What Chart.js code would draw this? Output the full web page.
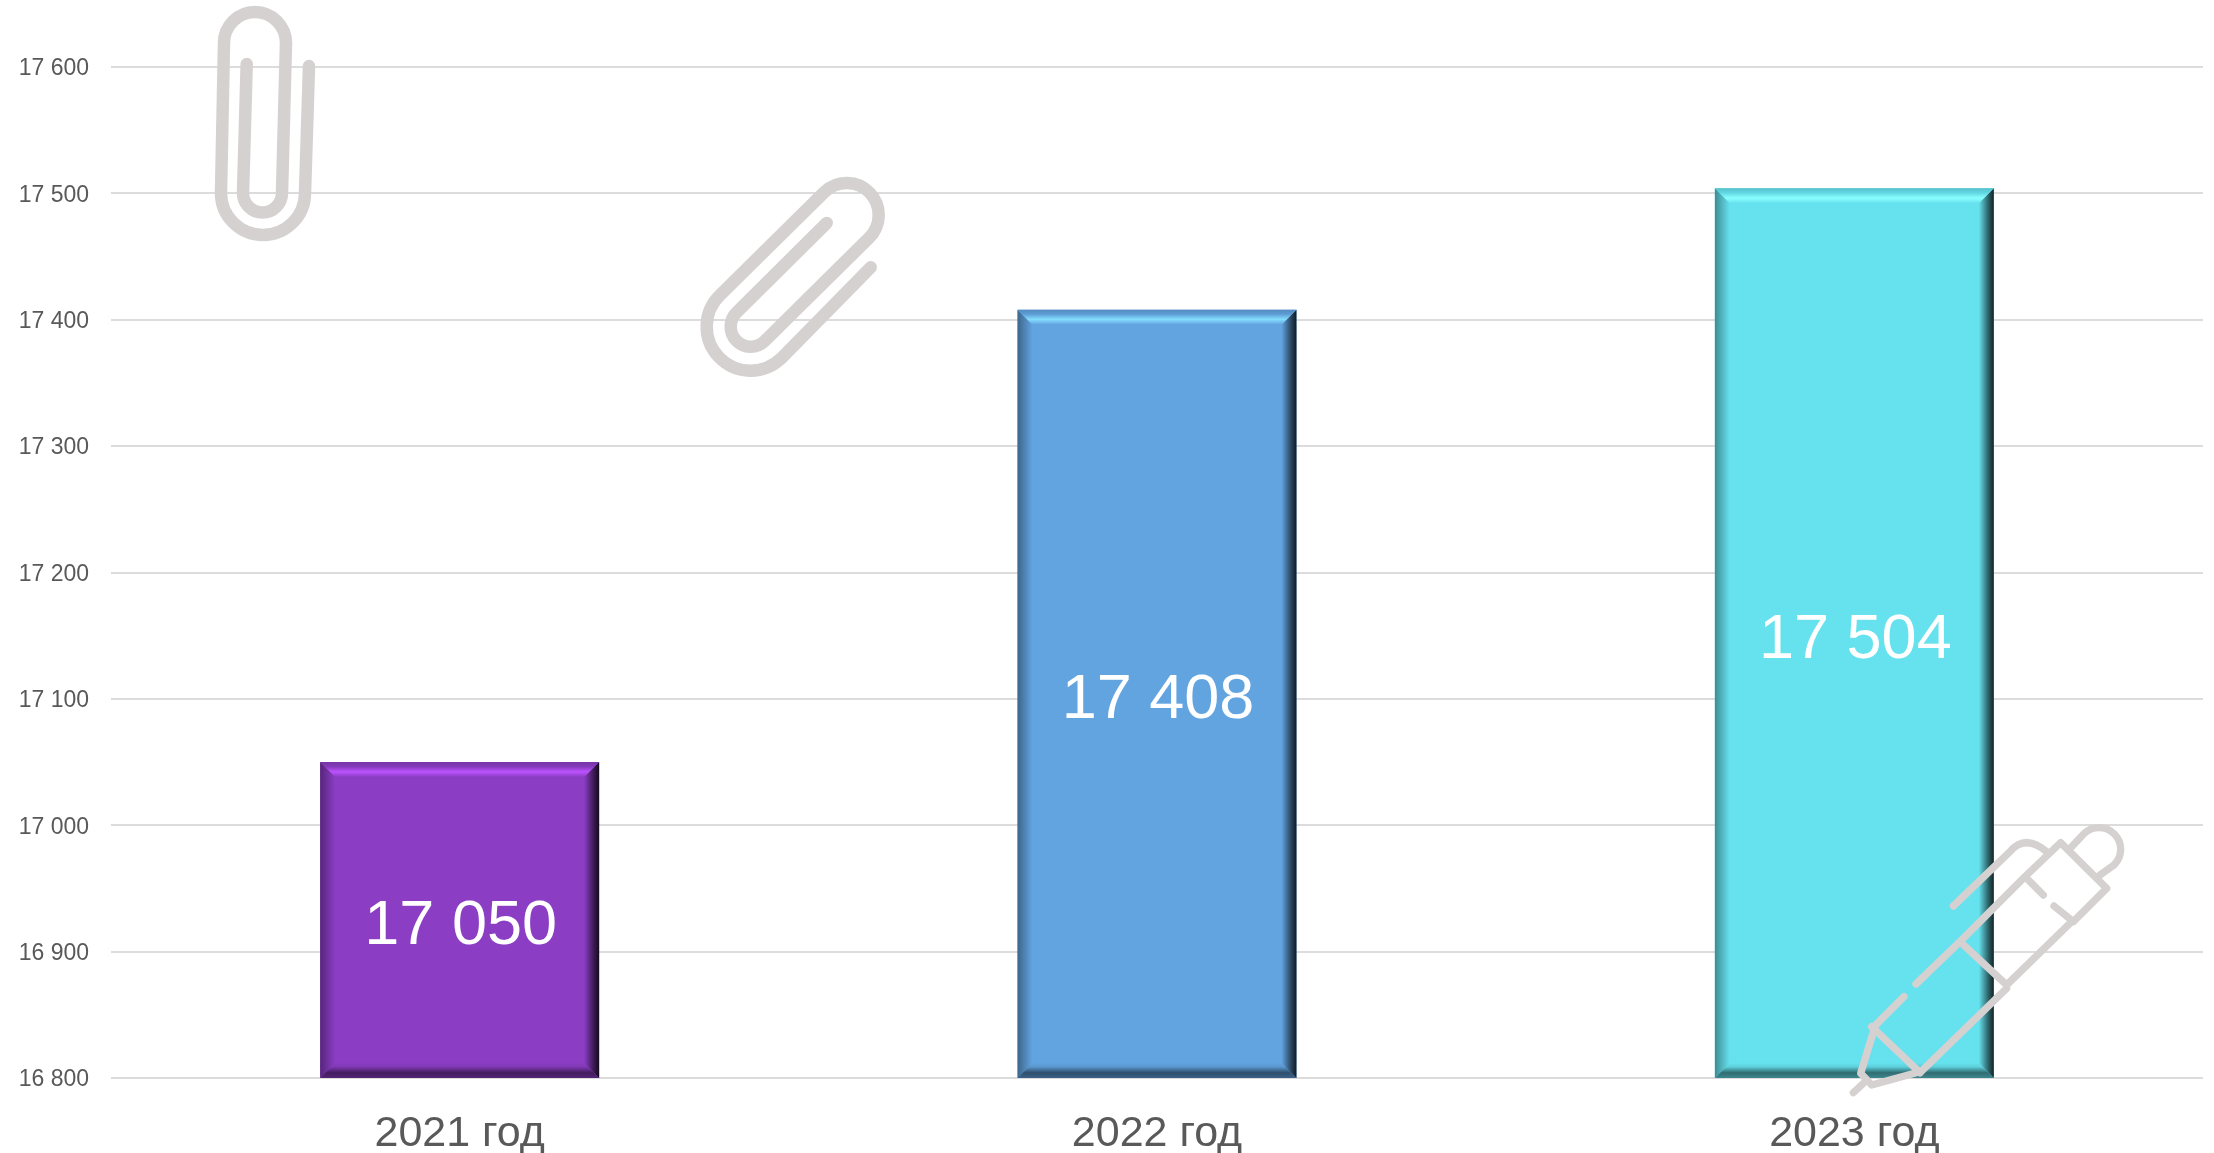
<!DOCTYPE html>
<html>
<head>
<meta charset="utf-8">
<style>
  html, body { margin: 0; padding: 0; background: #fff; }
  canvas { display: block; }
</style>
<script src="https://cdn.jsdelivr.net/npm/chart.js@4/dist/chart.umd.js"></script>
</head>
<body>
<canvas id="chart" width="2214" height="1153"></canvas>
<script>
const categories = ["2021 год", "2022 год", "2023 год"];
const values = [17050, 17408, 17504];
const yTicks = [16800, 16900, 17000, 17100, 17200, 17300, 17400, 17500, 17600];
const barColors = [[139, 61, 196], [98, 164, 224], [102, 226, 238]];

const fontName = '"Liberation Sans", Arial, sans-serif';
const iconColor = "#d6d1d1";

function formatNumber(n) {
  return String(n).replace(/\B(?=(\d{3})+$)/g, " ");
}

function shade(c, k) {
  const f = v => Math.min(255, Math.round(v * k));
  return `rgb(${f(c[0])},${f(c[1])},${f(c[2])})`;
}

// one side of the bevel: a trapezoid filled with a gradient across it
function bevelSide(ctx, pts, from, to, stops) {
  const g = ctx.createLinearGradient(from[0], from[1], to[0], to[1]);
  stops.forEach(s => g.addColorStop(s[0], s[1]));
  ctx.fillStyle = g;
  ctx.beginPath();
  ctx.moveTo(pts[0][0], pts[0][1]);
  pts.slice(1).forEach(p => ctx.lineTo(p[0], p[1]));
  ctx.closePath();
  ctx.fill();
}

const barBevel = {
  id: "barBevel",
  afterDatasetsDraw(chart) {
    const ctx = chart.ctx;
    const d = 15;
    chart.getDatasetMeta(0).data.forEach((bar, i) => {
      const c = barColors[i];
      const l = bar.x - bar.width / 2, r = bar.x + bar.width / 2;
      // the bar's own base sits at zero, far under the axis minimum
      const t = bar.y, b = Math.min(bar.base, chart.scales.y.bottom);
      ctx.save();
      bevelSide(ctx, [[l, t], [l + d, t + d], [l + d, b - d], [l, b]], [l, 0], [l + d, 0],
        [[0, shade(c, 0.62)], [0.6, shade(c, 0.85)], [1, shade(c, 1)]]);
      bevelSide(ctx, [[r, t], [r - d, t + d], [r - d, b - d], [r, b]], [r, 0], [r - d, 0],
        [[0, shade(c, 0.16)], [0.35, shade(c, 0.42)], [1, shade(c, 1)]]);
      bevelSide(ctx, [[l, t], [r, t], [r - d, t + d], [l + d, t + d]], [0, t], [0, t + d],
        [[0, shade(c, 0.85)], [0.3, shade(c, 0.95)], [0.65, shade(c, 1.35)], [1, shade(c, 1)]]);
      bevelSide(ctx, [[l, b], [r, b], [r - d, b - d], [l + d, b - d]], [0, b], [0, b - d],
        [[0, shade(c, 0.6)], [0.35, shade(c, 0.48)], [0.75, shade(c, 0.92)], [1, shade(c, 1)]]);

      ctx.fillStyle = "#fff";
      ctx.font = "63px " + fontName;
      ctx.textAlign = "center";
      ctx.textBaseline = "middle";
      ctx.fillText(formatNumber(values[i]), bar.x + 1, (t + b) / 2 + 7);
      ctx.restore();
    });
  }
};

function deg(a) { return a * Math.PI / 180; }

function drawClipUpright(ctx) {
  ctx.lineWidth = 12.5;
  ctx.beginPath();
  ctx.moveTo(309, 66);
  ctx.lineTo(305, 193);
  ctx.arc(263, 193, 42, 0, Math.PI);
  ctx.lineTo(224, 43);
  ctx.arc(255, 43, 31, Math.PI, 2 * Math.PI);
  ctx.lineTo(282, 193);
  ctx.arc(262.5, 193, 19.5, 0, Math.PI);
  ctx.lineTo(246.7, 64);
  ctx.stroke();
}

function drawClipTilted(ctx) {
  ctx.lineWidth = 12.5;
  ctx.beginPath();
  ctx.moveTo(870.7, 267.3);
  ctx.arc(750.7, 326.7, 44, deg(46), deg(226));
  ctx.arc(846.7, 215, 32, deg(226), deg(406));
  ctx.arc(750.7, 326.7, 20, deg(46), deg(226));
  ctx.lineTo(826.7, 223);
  ctx.stroke();
}

function drawPen(ctx) {
  const line = pts => {
    ctx.beginPath();
    ctx.moveTo(pts[0][0], pts[0][1]);
    pts.slice(1).forEach(p => ctx.lineTo(p[0], p[1]));
    ctx.stroke();
  };
  ctx.save();
  ctx.translate(1800, 800);
  ctx.scale(1 / 3, 1 / 3);
  ctx.lineWidth = 22;

  // pocket clip
  ctx.beginPath();
  ctx.moveTo(460, 318);
  ctx.lineTo(630, 155);
  ctx.quadraticCurveTo(675, 101, 740, 155);
  ctx.stroke();

  // body
  line([[222, 680], [312, 590]]);
  line([[348, 552], [480, 425], [675, 230], [782, 128], [920, 265], [820, 365], [762, 318]]);
  line([[680, 235], [730, 285]]);
  line([[815, 365], [620, 555]]);
  line([[620, 565], [360, 818]]);
  line([[480, 425], [620, 555]]);
  line([[215, 680], [360, 818]]);

  // top button
  ctx.beginPath();
  ctx.moveTo(815, 140);
  ctx.arc(897, 148, 65, deg(225), deg(405));
  ctx.lineTo(900, 225);
  ctx.stroke();

  // tip
  line([[225, 680], [182, 820], [215, 855], [360, 815]]);
  line([[190, 850], [160, 878]]);
  ctx.restore();
}

const decorations = {
  id: "decorations",
  afterDraw(chart) {
    const ctx = chart.ctx;
    ctx.save();
    ctx.strokeStyle = iconColor;
    ctx.lineCap = "round";
    ctx.lineJoin = "round";
    drawClipUpright(ctx);
    drawClipTilted(ctx);
    drawPen(ctx);
    ctx.restore();
  }
};

new Chart(document.getElementById("chart").getContext("2d"), {
  type: "bar",
  data: {
    labels: categories,
    datasets: [{
      data: values,
      backgroundColor: barColors.map(c => `rgb(${c[0]},${c[1]},${c[2]})`),
      borderWidth: 0,
      categoryPercentage: 1,
      barPercentage: 0.4
    }]
  },
  plugins: [barBevel, decorations],
  options: {
    responsive: false,
    animation: false,
    layout: { padding: { top: 67, right: 11, left: 0, bottom: 0 } },
    plugins: { legend: { display: false }, title: { display: false }, tooltip: { enabled: false } },
    scales: {
      x: {
        grid: { display: false },
        border: { display: false },
        ticks: {
          color: "#595959",
          font: { family: fontName, size: 43 },
          padding: 22,
          maxRotation: 0
        },
        afterFit(scale) { scale.height = 75; }
      },
      y: {
        min: yTicks[0],
        max: yTicks[yTicks.length - 1],
        afterBuildTicks(scale) { scale.ticks = yTicks.map(v => ({ value: v })); },
        grid: { color: "#dcdcdc", lineWidth: 2, drawTicks: false },
        border: { display: false },
        ticks: {
          color: "#595959",
          font: { family: fontName, size: 23 },
          padding: 22,
          labelOffset: 2,
          callback: v => formatNumber(v)
        },
        afterFit(scale) { scale.width = 111; }
      }
    }
  }
});
</script>
</body>
</html>
